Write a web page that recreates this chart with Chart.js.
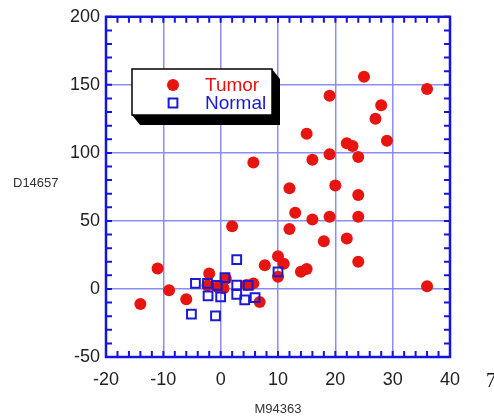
<!DOCTYPE html>
<html>
<head>
<meta charset="utf-8">
<script src="https://cdn.jsdelivr.net/npm/chart.js@4.4.1/dist/chart.umd.min.js"></script>
<style>
  html, body { margin: 0; padding: 0; background: #fff; }
  #wrap { width: 494px; height: 418px; }
</style>
</head>
<body>
<div id="wrap"><canvas id="scatter" width="494" height="418"></canvas></div>
<script>
/* ----------------------------------------
   Tumor vs Normal scatter (M94363 / D14657)
---------------------------------------- */

const tumorX = [25, 36, 19, 28, 27, 15, 29, 22, 23, 19, 24, 16, 5.7, 12, 20, 24, 13, 16, 19, 24,
                12, 18, 22, 2, 24, 14, 15, 36, -11, -9, -14, -6, -2, -2.3, -0.5, 0.9, 0.5, 4.5, 5.7, 6.8, 7.7, 10, 11, 10];
const tumorY = [156, 147, 142, 135, 125, 114, 109, 107, 105, 99, 97, 95, 93, 74, 76, 69, 56, 51, 53, 53,
                44, 35, 37, 46, 20, 12.6, 14.6, 2, 15, -1, -11, -7.5, 11.4, 2.6, 1.5, 7.5, 0.5, 3, 4.1, -9.5, 17.5, 24, 18.5, 9];

const normalX = [2.8, 10, -4.4, -2.3, -0.6, 0.75, 2.8, 4.8, -2.2, 0, 2.8, 4.2, 6, -5.1, -0.9];
const normalY = [21.5, 12.6, 4.1, 4.1, 2.6, 8.3, 2.9, 2.6, -5.1, -5.8, -3.9, -8, -6.4, -18.5, -19.8];

const xTicks = [-20, -10, 0, 10, 20, 30, 40];
const yTicks = [-50, 0, 50, 100, 150, 200];
const xMinorStep = 2;
const yMinorStep = 10;

const xTitle = "M94363";
const yTitle = "D14657";

const frameBlue = "#1414dc";
const gridBlue = "#8c8cf2";
const tumorRed = "#e8140f";
const normalBlue = "#1a1ad2";

function toPoints(xs, ys) {
  return xs.map((x, i) => ({ x: x, y: ys[i] }));
}

/* frame, inward minor ticks, titles */
const framePlugin = {
  id: "frame",
  afterDraw(chart) {
    const { ctx, chartArea: a, scales } = chart;
    const xs = scales.x, ys = scales.y;
    ctx.save();
    ctx.strokeStyle = frameBlue;
    ctx.lineWidth = 2;
    ctx.beginPath();
    for (let v = xs.min; v <= xs.max; v += xMinorStep) {
      const px = xs.getPixelForValue(v);
      ctx.moveTo(px, a.bottom); ctx.lineTo(px, a.bottom - 6);
      ctx.moveTo(px, a.top); ctx.lineTo(px, a.top + 6);
    }
    for (let v = ys.min; v <= ys.max; v += yMinorStep) {
      const py = ys.getPixelForValue(v);
      ctx.moveTo(a.left, py); ctx.lineTo(a.left + 6, py);
      ctx.moveTo(a.right, py); ctx.lineTo(a.right - 6, py);
    }
    ctx.stroke();
    ctx.lineWidth = 2.5;
    ctx.strokeRect(a.left, a.top, a.right - a.left, a.bottom - a.top);

    ctx.fillStyle = "#333";
    ctx.font = "13px 'Liberation Sans', Arial, sans-serif";
    ctx.textBaseline = "middle";
    ctx.textAlign = "center";
    ctx.fillText(xTitle, (a.left + a.right) / 2, 409);
    ctx.textAlign = "left";
    ctx.fillText(yTitle, 13, (a.top + a.bottom) / 2 - 3);

    ctx.fillStyle = "#111";
    ctx.font = "20px 'Liberation Serif', 'Times New Roman', serif";
    ctx.fillText("7", 486, 382);
    ctx.restore();
  }
};

/* legend box with black drop shadow */
const legendPlugin = {
  id: "boxLegend",
  afterDraw(chart) {
    const ctx = chart.ctx;
    const l = 132, t = 69, r = 272, b = 115, dx = 8, dy = 10;
    ctx.save();
    ctx.fillStyle = "#000";
    ctx.beginPath();
    ctx.moveTo(l, b);
    ctx.lineTo(l + dx, b + dy);
    ctx.lineTo(r + dx, b + dy);
    ctx.lineTo(r + dx, t + dy);
    ctx.lineTo(r, t);
    ctx.closePath();
    ctx.fill();
    ctx.fillStyle = "#fff";
    ctx.fillRect(l, t, r - l, b - t);
    ctx.strokeStyle = "#000";
    ctx.lineWidth = 1.5;
    ctx.strokeRect(l, t, r - l, b - t);

    ctx.font = "19px 'Liberation Sans', Arial, sans-serif";
    ctx.textBaseline = "middle";
    ctx.textAlign = "left";
    const rows = [85, 103];
    chart.data.datasets.forEach((ds, i) => {
      ctx.fillStyle = ds.backgroundColor;
      ctx.strokeStyle = ds.borderColor;
      ctx.lineWidth = ds.borderWidth;
      Chart.helpers.drawPoint(ctx, {
        pointStyle: ds.pointStyle,
        radius: ds.pointRadius,
        rotation: 0,
        borderWidth: ds.borderWidth
      }, 173, rows[i]);
      ctx.fillStyle = ds.borderColor;
      ctx.fillText(ds.label, 205, rows[i] + 1);
    });
    ctx.restore();
  }
};

const chart = new Chart(document.getElementById("scatter"), {
  type: "scatter",
  data: {
    datasets: [
      {
        label: "Tumor",
        data: toPoints(tumorX, tumorY),
        order: 1,
        pointStyle: "circle",
        pointRadius: 6,
        borderWidth: 0,
        backgroundColor: tumorRed,
        borderColor: tumorRed
      },
      {
        label: "Normal",
        data: toPoints(normalX, normalY),
        order: 0,
        pointStyle: "rect",
        pointRadius: 6.2,
        borderWidth: 2,
        backgroundColor: "rgba(0,0,0,0)",
        borderColor: normalBlue
      }
    ]
  },
  options: {
    responsive: false,
    animation: false,
    layout: { padding: { top: 15, right: 44, bottom: 0, left: 0 } },
    plugins: {
      legend: { display: false },
      tooltip: { enabled: false }
    },
    scales: {
      x: {
        type: "linear",
        min: xTicks[0],
        max: xTicks[xTicks.length - 1],
        afterBuildTicks: s => { s.ticks = xTicks.map(v => ({ value: v })); },
        afterFit: s => { s.height = 61; },
        border: { display: false },
        grid: { color: gridBlue, lineWidth: 1.5, drawTicks: false },
        ticks: {
          padding: 12,
          color: "#222",
          font: { family: "'Liberation Sans', Arial, sans-serif", size: 18 }
        }
      },
      y: {
        type: "linear",
        min: yTicks[0],
        max: yTicks[yTicks.length - 1],
        afterBuildTicks: s => { s.ticks = yTicks.map(v => ({ value: v })); },
        afterFit: s => { s.width = 106; },
        border: { display: false },
        grid: { color: gridBlue, lineWidth: 1.5, drawTicks: false },
        ticks: {
          padding: 6,
          color: "#222",
          font: { family: "'Liberation Sans', Arial, sans-serif", size: 18 }
        }
      }
    }
  },
  plugins: [framePlugin, legendPlugin]
});
</script>
</body>
</html>
